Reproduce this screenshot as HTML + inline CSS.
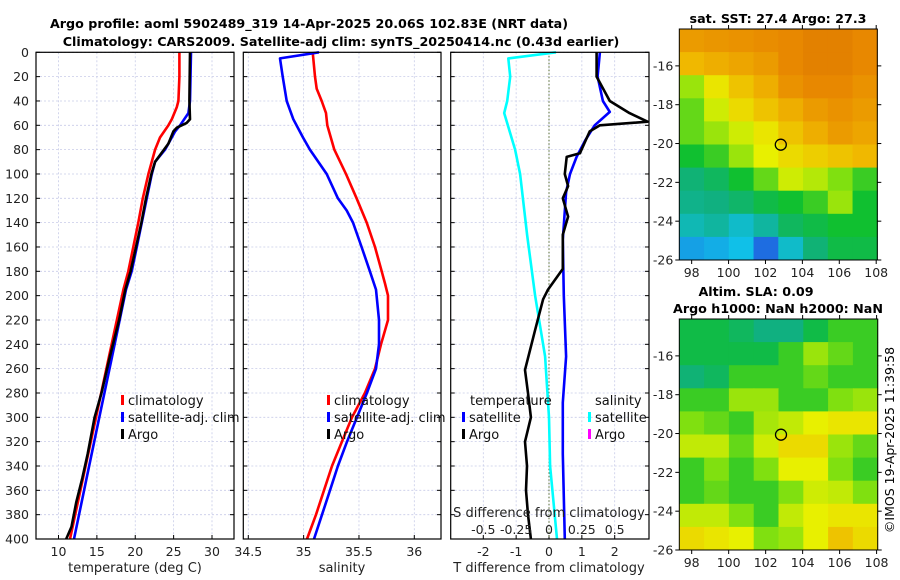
<!DOCTYPE html>
<html><head><meta charset="utf-8"><style>
html,body{margin:0;padding:0;background:#fff;}
svg{display:block;font-family:"DejaVu Sans","Liberation Sans",sans-serif;}
</style></head><body>
<svg id="fig" width="900" height="580" viewBox="0 0 900 580">
<g id="titles">
<text x="309" y="28" font-size="12.7" font-weight="bold" text-anchor="middle">Argo profile: aoml 5902489_319 14-Apr-2025 20.06S 102.83E (NRT data)</text>
<text x="341" y="46" font-size="12.7" font-weight="bold" text-anchor="middle">Climatology: CARS2009. Satellite-adj clim: synTS_20250414.nc (0.43d earlier)</text>
<text x="778" y="23" font-size="12.7" font-weight="bold" text-anchor="middle">sat. SST: 27.4 Argo: 27.3</text>
<text x="756" y="296" font-size="12.7" font-weight="bold" text-anchor="middle">Altim. SLA: 0.09</text>
<text x="778" y="313" font-size="12.7" font-weight="bold" text-anchor="middle">Argo h1000: NaN h2000: NaN</text>
<text x="0" y="0" font-size="12.5" text-anchor="middle" transform="translate(894,440) rotate(-90)">©IMOS 19-Apr-2025 11:39:58</text>
</g>
<g id="plots"></g>
</svg>
<script>
// ---------- data ----------
const depthTicks = [0,20,40,60,80,100,120,140,160,180,200,220,240,260,280,300,320,340,360,380,400];
const tempTicks = [10,15,20,25,30];
const salTicks = [34.5,35,35.5,36];
const salTickLabels = ["34.5","35","35.5","36"];
const tdiffTicks = [-2,-1,0,1,2];
const sdiffTicks = [-0.5,-0.25,0,0.25,0.5];
const sdiffTickLabels = ["-0.5","-0.25","0","0.25","0.5"];

const climTDepth = [0,20,40,45,55,60,70,80,100,120,140,160,180,195,250,300,350,400];
const climT = [25.75,25.75,25.62,25.41,24.76,24.32,23.23,22.58,21.71,20.98,20.40,19.75,19.10,18.45,16.58,14.89,13.19,11.5];
const satTDepth = [0,40,50,60,65,75,80,90,100,120,140,160,180,195,250,300,350,400];
const satT = [27.27,27.14,26.92,25.84,25.19,24.32,23.89,22.58,22.15,21.50,20.85,20.20,19.54,18.80,16.98,15.32,13.66,12.02];
const argoTDepth = [0,40,55,58,62,65,75,80,90,100,120,140,160,180,195,220,250,280,300,330,350,370,390,400];
const argoT = [27.14,27.05,27.14,26.71,25.41,24.97,24.32,23.75,22.58,22.1,21.4,20.8,20.1,19.4,18.7,17.9,16.7,15.6,14.7,13.8,13.1,12.3,11.7,11.0];

const climSDepth = [0,20,30,40,50,60,80,100,120,140,160,180,190,200,220,240,260,280,300,320,340,360,380,400];
const climS = [35.082,35.103,35.118,35.163,35.202,35.214,35.277,35.383,35.479,35.570,35.645,35.705,35.735,35.762,35.762,35.699,35.645,35.554,35.437,35.346,35.256,35.184,35.112,35.030];
const satSDepth = [0,5,20,40,55,70,80,100,120,130,140,160,180,195,220,240,260,280,300,320,340,360,380,400];
const satS = [35.139,34.786,34.811,34.847,34.907,34.994,35.057,35.208,35.310,35.389,35.446,35.524,35.599,35.654,35.681,35.681,35.654,35.572,35.482,35.392,35.310,35.238,35.166,35.094];

const satTdDepth = [0,20,40,49,60,72,86,100,115,154,200,250,288,330,400];
const satTd = [1.55,1.48,1.64,1.85,1.39,1.11,0.84,0.64,0.52,0.42,0.45,0.52,0.42,0.42,0.48];
const argoTdDepth = [0,20,40,50,57,60,65,83,86,100,110,120,135,150,178,195,203,228,261,280,300,320,340,360,380,400];
const argoTd = [1.45,1.45,1.85,2.45,3.0,1.55,1.24,0.94,0.54,0.48,0.58,0.42,0.58,0.42,0.42,-0.03,-0.18,-0.42,-0.73,-0.64,-0.55,-0.73,-0.67,-0.70,-0.64,-0.55];
const satSdDepth = [0,5,20,40,50,80,100,150,200,250,300,340,400];
const satSd = [0.053,-0.31,-0.295,-0.318,-0.341,-0.258,-0.22,-0.167,-0.106,-0.03,0,0.008,0.061];

const mapLatTicks = [-16,-18,-20,-22,-24,-26];
const mapLonTicks = [98,100,102,104,106,108];
const argoLon = 102.83, argoLat = -20.06;
const sstGrid = [
[0.84,0.85,0.86,0.87,0.88,0.9,0.9,0.88],
[0.78,0.8,0.82,0.84,0.88,0.9,0.9,0.88],
[0.62,0.7,0.76,0.8,0.86,0.88,0.88,0.86],
[0.58,0.66,0.72,0.76,0.8,0.84,0.86,0.84],
[0.58,0.62,0.66,0.7,0.76,0.8,0.84,0.82],
[0.52,0.55,0.62,0.68,0.72,0.74,0.76,0.78],
[0.46,0.48,0.52,0.58,0.66,0.64,0.6,0.55],
[0.44,0.45,0.47,0.5,0.52,0.55,0.62,0.52],
[0.4,0.42,0.38,0.42,0.48,0.5,0.52,0.52],
[0.3,0.32,0.35,0.22,0.38,0.46,0.5,0.5]];
const slaGrid = [
[0.5,0.5,0.48,0.45,0.45,0.5,0.55,0.55],
[0.5,0.5,0.5,0.5,0.55,0.62,0.58,0.55],
[0.46,0.48,0.55,0.55,0.55,0.58,0.55,0.55],
[0.55,0.55,0.62,0.62,0.55,0.55,0.6,0.62],
[0.6,0.58,0.55,0.63,0.65,0.68,0.7,0.7],
[0.65,0.65,0.58,0.66,0.72,0.72,0.62,0.58],
[0.55,0.6,0.55,0.6,0.68,0.68,0.6,0.55],
[0.55,0.58,0.55,0.55,0.6,0.66,0.65,0.6],
[0.65,0.65,0.6,0.55,0.65,0.68,0.7,0.7],
[0.72,0.7,0.68,0.6,0.62,0.68,0.76,0.72]];

// ---------- helpers ----------
const NS='http://www.w3.org/2000/svg';
const root=document.getElementById('plots');
function mk(tag,attrs,parent){const e=document.createElementNS(NS,tag);for(const k in attrs)e.setAttribute(k,attrs[k]);(parent||root).appendChild(e);return e;}
const PY0=52.3, PY1=539;
function yD(d){return PY0+(d/400)*(PY1-PY0);}
function lin(d0,d1,r0,r1){return v=>r0+(v-d0)/(d1-d0)*(r1-r0);}

function panel(name,x0,x1,xs,ticks,labels,showY){
  const g=mk('g',{});
  
  
  ticks.forEach(t=>{const l=mk('line',{x1:xs(t),x2:xs(t),y1:PY0,y2:PY1,stroke:'#c8cce8','stroke-width':0.8,'stroke-dasharray':'2,2'},g);
    });
  depthTicks.forEach(d=>{const l=mk('line',{x1:x0,x2:x1,y1:yD(d),y2:yD(d),stroke:'#c8cce8','stroke-width':0.8,'stroke-dasharray':'2,2'},g);
    
    mk('line',{x1:x0,x2:x0+4,y1:yD(d),y2:yD(d),stroke:'#000','stroke-width':1},g);
    mk('line',{x1:x1-4,x2:x1,y1:yD(d),y2:yD(d),stroke:'#000','stroke-width':1},g);
    if(showY){const t=mk('text',{x:x0-7,y:yD(d)+4.5,'font-size':12.5,'text-anchor':'end',fill:'#222'},g);t.textContent=d;
      }
  });
  if(labels){ticks.forEach((t,i)=>{mk('line',{x1:xs(t),x2:xs(t),y1:PY1-4,y2:PY1,stroke:'#000'},g);
    const tx=mk('text',{x:xs(t),y:PY1+17,'font-size':12.5,'text-anchor':'middle',fill:'#222'},g);tx.textContent=labels[i];
    });}
  return g;
}
function frame(g,x0,x1){const r=mk('rect',{x:x0,y:PY0,width:x1-x0,height:PY1-PY0,fill:'none',stroke:'#000','stroke-width':1.2},g);
  }
function curve(g,name,depths,vals,xs,color,w){
  const pts=depths.map((d,i)=>xs(vals[i]).toFixed(1)+','+yD(d).toFixed(1)).join(' ');
  const p=mk('polyline',{points:pts,fill:'none',stroke:color,'stroke-width':w||2.6,'stroke-linejoin':'round'},g);
  
}
function legendEntry(g,name,x,y,color,text){
  const e=mk('g',{},g);
  
  if(color) mk('rect',{x:x,y:y-10,width:3,height:10,fill:color},e);
  const t=mk('text',{x:x+7,y:y,'font-size':13,fill:'#111'},e);t.textContent=text;
}
function axisLabel(g,name,x,y,text){const t=mk('text',{x:x,y:y,'font-size':13,'text-anchor':'middle',fill:'#222'},g);t.textContent=text;
  }

// Panel 1: temperature
const xT=lin(10,30,58.5,212);
const p1=panel('temperature-panel',36,234,xT,tempTicks,tempTicks.map(String),true);
curve(p1,'temperature-climatology-line',climTDepth,climT,xT,'#ff0000');
curve(p1,'temperature-satellite-line',satTDepth,satT,xT,'#0000ff');
curve(p1,'temperature-argo-line',argoTDepth,argoT,xT,'#000000');
frame(p1,36,234);
legendEntry(p1,'legend-climatology',121,405,'#ff0000','climatology');
legendEntry(p1,'legend-satellite-adj-clim',121,422,'#0000ff','satellite-adj. clim');
legendEntry(p1,'legend-argo',121,439,'#000','Argo');
axisLabel(p1,'x-axis-title-temperature',135,572,'temperature (deg C)');

// Panel 2: salinity
const xS=lin(34.5,36,248.3,414.3);
const p2=panel('salinity-panel',243.3,441,xS,salTicks,salTickLabels,false);
curve(p2,'salinity-climatology-line',climSDepth,climS,xS,'#ff0000');
curve(p2,'salinity-satellite-line',satSDepth,satS,xS,'#0000ff');
frame(p2,243.3,441);
legendEntry(p2,'legend-climatology-sal',327,405,'#ff0000','climatology');
legendEntry(p2,'legend-satellite-adj-clim-sal',327,422,'#0000ff','satellite-adj. clim');
legendEntry(p2,'legend-argo-sal',327,439,'#000','Argo');
axisLabel(p2,'x-axis-title-salinity',342,572,'salinity');

// Panel 3: differences
const xTd=lin(0,2,549,614.7);
const xSd=lin(0,0.5,549,614.7);
const p3=panel('difference-panel',450.7,649,xTd,tdiffTicks,tdiffTicks.map(String),false);
const z=mk('line',{x1:xTd(0),x2:xTd(0),y1:PY0,y2:PY1,stroke:'#556b2f','stroke-width':1,'stroke-dasharray':'1.5,2'},p3);

curve(p3,'salinity-diff-satellite-line',satSdDepth,satSd,xSd,'#00ffff');
curve(p3,'temperature-diff-satellite-line',satTdDepth,satTd,xTd,'#0000ff');
curve(p3,'temperature-diff-argo-line',argoTdDepth,argoTd,xTd,'#000');
legendEntry(p3,'legend-temperature-header',463,405,null,'temperature');
legendEntry(p3,'legend-temp-satellite',462,422,'#0000ff','satellite');
legendEntry(p3,'legend-temp-argo',462,439,'#000','Argo');
legendEntry(p3,'legend-salinity-header',588,405,null,'salinity');
legendEntry(p3,'legend-sal-satellite',588,422,'#00ffff','satellite');
legendEntry(p3,'legend-sal-argo',588,439,'#ff00ff','Argo');
axisLabel(p3,'s-axis-title',549,517,'S difference from climatology');
sdiffTicks.forEach((t,i)=>{const tx=mk('text',{x:xSd(t),y:534,'font-size':12.5,'text-anchor':'middle',fill:'#222'},p3);tx.textContent=sdiffTickLabels[i];
  });
frame(p3,450.7,649);
axisLabel(p3,'x-axis-title-tdiff',549,572,'T difference from climatology');

// ---------- maps ----------
const stops=[[0.2,[32,96,224]],[0.35,[16,192,232]],[0.45,[16,176,128]],[0.52,[16,192,48]],[0.6,[128,224,16]],[0.68,[232,240,0]],[0.78,[240,184,0]],[0.88,[232,136,0]],[0.95,[216,112,0]]];
function cmap(v){if(v<=stops[0][0])return 'rgb('+stops[0][1]+')';
  for(let i=1;i<stops.length;i++){if(v<=stops[i][0]){const a=stops[i-1],b=stops[i],f=(v-a[0])/(b[0]-a[0]);
    return 'rgb('+a[1].map((c,k)=>Math.round(c+(b[1][k]-c)*f)).join(',')+')';}}
  return 'rgb('+stops[stops.length-1][1]+')';}
function drawMap(name,grid,x0,x1,y0,y1,latTop,latBot,lonL,lonR){
  const g=mk('g',{});
  
  const xs=lin(lonL,lonR,x0,x1), ys=lin(latTop,latBot,y0,y1);
  const rows=grid.length, cols=grid[0].length;
  const dLat=(latTop-latBot)/rows, dLon=(lonR-lonL)/cols;
  grid.forEach((row,r)=>row.forEach((v,c)=>{
    const xa=xs(lonL+c*dLon), xb=xs(lonL+(c+1)*dLon), ya=ys(latTop-r*dLat), yb=ys(latTop-(r+1)*dLat);
    const cell=mk('rect',{x:xa,y:ya,width:xb-xa+0.5,height:yb-ya+0.5,fill:cmap(v)},g);
    
  }));
  mk('rect',{x:x0,y:y0,width:x1-x0,height:y1-y0,fill:'none',stroke:'#000','stroke-width':1},g);
  mapLatTicks.forEach(t=>{const y=ys(t);
    mk('line',{x1:x0-4,x2:x0,y1:y,y2:y,stroke:'#000'},g);mk('line',{x1:x1,x2:x1+4,y1:y,y2:y,stroke:'#000'},g);
    const tx=mk('text',{x:x0-6,y:y+4.5,'font-size':12.5,'text-anchor':'end',fill:'#222'},g);tx.textContent=t;
    });
  mapLonTicks.forEach(t=>{const x=xs(t);
    mk('line',{x1:x,x2:x,y1:y1,y2:y1+4,stroke:'#000'},g);mk('line',{x1:x,x2:x,y1:y0-4,y2:y0,stroke:'#000'},g);
    const tx=mk('text',{x:x,y:y1+17,'font-size':12.5,'text-anchor':'middle',fill:'#222'},g);tx.textContent=t;
    });
  const m=mk('ellipse',{cx:xs(argoLon),cy:ys(argoLat),rx:5.5,ry:5.5,fill:'none',stroke:'#000','stroke-width':1.3},g);
  
}
drawMap('sst-map',sstGrid,679.3,877.3,29,260,-14.1,-26,97.33,108.06);
drawMap('sla-map',slaGrid,679.3,877.7,319,550,-14.1,-26,97.33,108.06);
</script>
</body></html>
